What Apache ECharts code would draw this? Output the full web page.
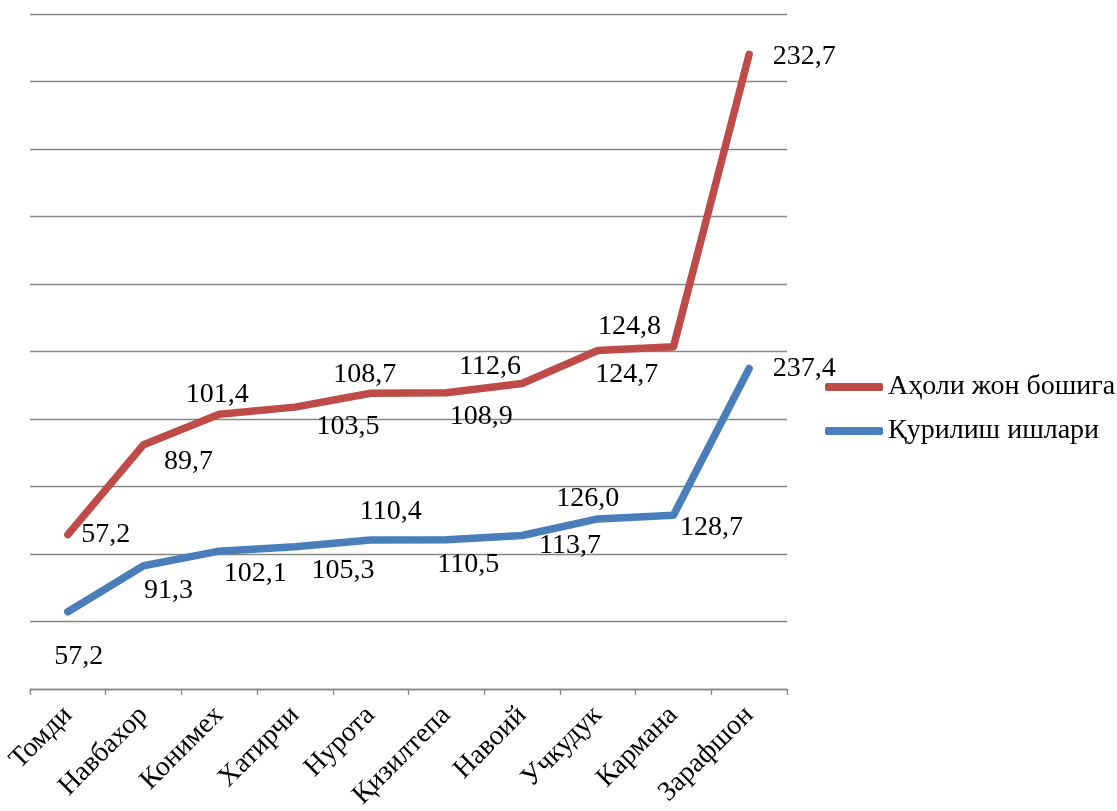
<!DOCTYPE html>
<html>
<head>
<meta charset="utf-8">
<script src="https://cdn.jsdelivr.net/npm/echarts@6/dist/echarts.min.js"></script>
<style>
  html, body { margin: 0; padding: 0; background: #fff; }
  #chart { width: 1117px; height: 811px; }
</style>
</head>
<body>
<div id="chart"></div>
<script>
  // маълумотлар
  const categories = ['Томди', 'Навбахор', 'Конимех', 'Хатирчи', 'Нурота', 'Қизилтепа', 'Навоий', 'Учкудук', 'Кармана', 'Зарафшон']
  const aholi = [57.2, 89.7, 101.4, 103.5, 108.7, 108.9, 112.6, 124.7, 124.8, 232.7]
  const qurilish = [57.2, 91.3, 102.1, 105.3, 110.4, 110.5, 113.7, 126.0, 128.7, 237.4]

  // label offsets (px) as they were dragged in the original
  const aholiLabelShift = [[38, 0], [45, 17], [-2, -20], [53, 20], [-6, -19], [35, 24], [-32, -17], [29, 24], [-44, -20], [55, 2]]
  const qurilishLabelShift = [[11, 45], [25, 25], [36, 22], [48, 24], [20, -28], [22, 25], [48, 10], [-10, -20], [38, 12], [55, 0]]

  const font = 'Liberation Serif'
  const fmt = p => p.value.toFixed(1).replace('.', ',')

  function withLabels(values, shifts) {
    return values.map((v, i) => ({ value: v, label: { offset: shifts[i] } }))
  }

  function lineSeries(name, color, values, shifts) {
    return {
      name: name,
      type: 'line',
      stack: 'total',
      symbol: 'circle',
      symbolSize: 1,
      showSymbol: true,
      itemStyle: { color: color },
      lineStyle: { color: color, width: 7.5, cap: 'round', join: 'round' },
      label: {
        show: true,
        position: 'inside',
        formatter: fmt,
        color: '#000',
        fontFamily: font,
        fontSize: 28
      },
      data: withLabels(values, shifts)
    }
  }

  let myChart = echarts.init(document.getElementById('chart'))
  myChart.setOption({
    animation: false,
    grid: { left: 30, right: 330, top: 14, bottom: 122, containLabel: false, outerBoundsMode: 'none' },
    legend: {
      orient: 'vertical',
      left: 825,
      top: 373,
      padding: 0,
      icon: 'roundRect',
      itemWidth: 58,
      itemHeight: 8,
      itemGap: 16,
      data: ['Аҳоли жон бошига', 'Қурилиш ишлари'],
      textStyle: { fontFamily: font, fontSize: 28, color: '#000' }
    },
    xAxis: {
      type: 'category',
      boundaryGap: true,
      data: categories,
      axisLine: { lineStyle: { color: '#878787', width: 1.3 } },
      axisTick: { show: true, length: 6, lineStyle: { color: '#878787', width: 1.3 } },
      axisLabel: { rotate: 45, margin: 22, color: '#000', fontFamily: font, fontSize: 28, interval: 0 }
    },
    yAxis: {
      type: 'value',
      min: 0,
      max: 500,
      interval: 50,
      axisLine: { show: false },
      axisTick: { show: false },
      axisLabel: { show: false },
      splitLine: { lineStyle: { color: '#878787', width: 1.3 } }
    },
    series: [
      lineSeries('Қурилиш ишлари', '#4a7ebb', qurilish, qurilishLabelShift),
      lineSeries('Аҳоли жон бошига', '#be4b48', aholi, aholiLabelShift)
    ]
  })
</script>
</body>
</html>
